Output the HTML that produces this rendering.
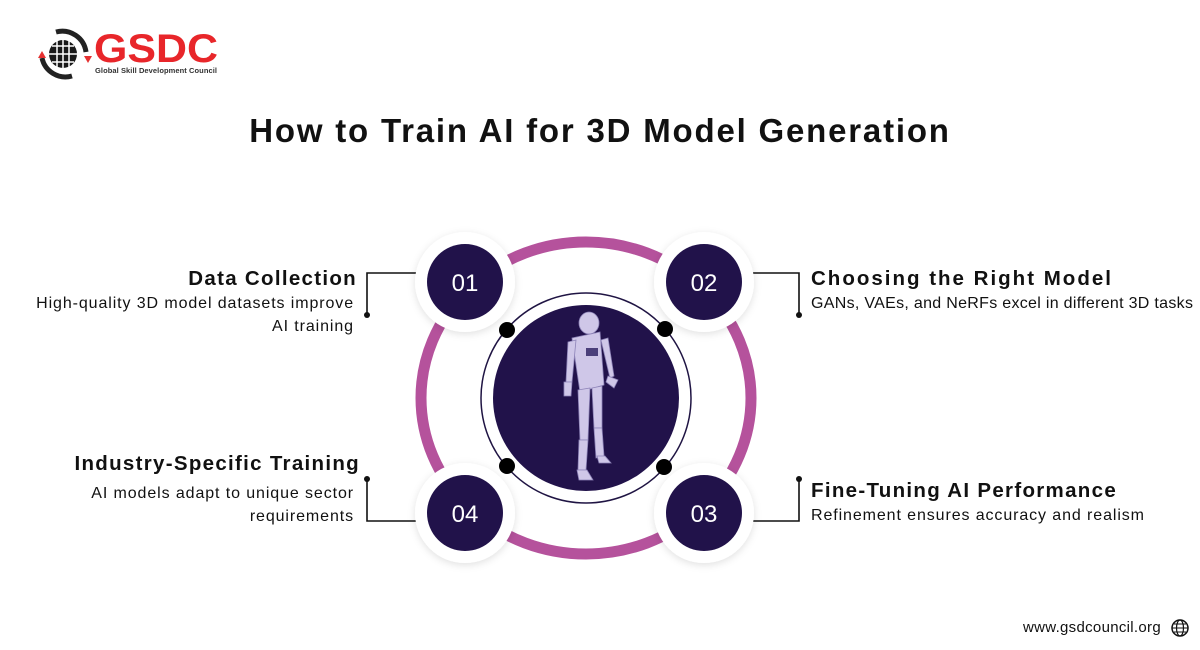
<!DOCTYPE html>
<html><head><meta charset="utf-8"><style>
body{margin:0;width:1200px;height:650px;background:#fff;overflow:hidden;font-family:"Liberation Sans",sans-serif;position:relative}
.t{position:absolute;color:#111;white-space:nowrap}
.h{font-weight:bold;font-size:20.5px;letter-spacing:1.3px}
.d{font-size:16px;line-height:23px;letter-spacing:0.9px}
</style></head><body>
<svg width="1200" height="650" style="position:absolute;left:0;top:0">
<defs><filter id="sh" x="-30%" y="-30%" width="160%" height="160%"><feDropShadow dx="0" dy="2" stdDeviation="4" flood-color="#000" flood-opacity="0.12"/></filter></defs>
<!-- logo -->
<path d="M56 32 A24 24 0 0 1 86 52" stroke="#222" stroke-width="5" fill="none"/>
<path d="M42 58 A24 24 0 0 0 72 76" stroke="#222" stroke-width="5" fill="none"/>
<circle cx="63" cy="54" r="14" fill="#1a1a1a"/>
<path d="M49 54h28M63 40v28M52 46h22M52 62h22M57 41v26M69 41v26" stroke="#fff" stroke-width="1.5"/>
<path d="M38 58l4-7 4 7z" fill="#e53030"/><path d="M84 56l4 7 4-7z" fill="#e53030"/>
<text x="94" y="62" font-family="Liberation Sans" font-weight="bold" font-size="40" fill="#e8262a" textLength="124" lengthAdjust="spacingAndGlyphs">GSDC</text>
<text x="95" y="73" font-family="Liberation Sans" font-weight="bold" font-size="7.5" fill="#333" textLength="122">Global Skill Development Council</text>
<!-- connectors -->
<g stroke="#111" stroke-width="1.6" fill="none">
<path d="M420 273H367V315"/><path d="M750 273H799V315"/>
<path d="M367 479V521H420"/><path d="M799 479V521H750"/>
</g>
<g fill="#111"><circle cx="367" cy="315" r="3"/><circle cx="799" cy="315" r="3"/><circle cx="367" cy="479" r="3"/><circle cx="799" cy="479" r="3"/></g>
<!-- ring -->
<ellipse cx="586" cy="398" rx="165" ry="156" fill="none" stroke="#b5529c" stroke-width="11"/>
<circle cx="586" cy="398" r="105" fill="none" stroke="#1f1443" stroke-width="1.5"/>
<circle cx="586" cy="398" r="93" fill="#21124a"/>
<g fill="#000"><circle cx="507" cy="330" r="8"/><circle cx="665" cy="329" r="8"/><circle cx="507" cy="466" r="8"/><circle cx="664" cy="467" r="8"/></g>
<!-- robot -->
<g fill="#cfc7e8" stroke="#8e84b8" stroke-width="0.8">
<ellipse cx="589" cy="323" rx="10" ry="11"/>
<path d="M572 338 L600 332 L604 385 L580 392 Z"/>
<path d="M568 342 L576 340 L572 382 L566 382 Z"/>
<path d="M601 340 L608 338 L614 376 L610 378 Z"/>
<path d="M608 376 l10 4 l-4 8 l-8 -6z"/>
<path d="M564 382 l8 0 l-1 14 l-7 0z"/>
<path d="M578 390 L590 388 L588 440 L580 440 Z"/>
<path d="M592 388 L602 386 L602 428 L594 428 Z"/>
<path d="M579 440 L588 440 L586 470 L578 470 Z"/>
<path d="M594 428 L602 428 L604 456 L596 458 Z"/>
<path d="M577 470 l10 0 l6 10 l-14 0z"/><path d="M597 456 l8 0 l6 7 l-12 0z"/>
</g>
<rect x="586" y="348" width="12" height="8" fill="#4b3f7a"/>
<!-- number circles -->
<g filter="url(#sh)" fill="#fff"><circle cx="465" cy="282" r="50"/><circle cx="704" cy="282" r="50"/><circle cx="465" cy="513" r="50"/><circle cx="704" cy="513" r="50"/></g>
<g fill="#21124a"><circle cx="465" cy="282" r="38"/><circle cx="704" cy="282" r="38"/><circle cx="465" cy="513" r="38"/><circle cx="704" cy="513" r="38"/></g>
<g fill="#fff" font-family="Liberation Sans" font-size="24" text-anchor="middle">
<text x="465" y="291">01</text><text x="704" y="291">02</text><text x="465" y="522">04</text><text x="704" y="522">03</text></g>
<!-- footer globe -->
<circle cx="1180" cy="628" r="8" fill="none" stroke="#111" stroke-width="1.5"/>
<ellipse cx="1180" cy="628" rx="3.5" ry="8" fill="none" stroke="#111" stroke-width="1.2"/>
<path d="M1172 628h16M1174 624h12M1174 632h12" stroke="#111" stroke-width="1"/>
</svg>
<div class="t" style="left:0;width:1200px;top:112px;text-align:center;font-weight:bold;font-size:33px;letter-spacing:1.8px">How to Train AI for 3D Model Generation</div>
<div class="t h" style="right:843px;top:267px">Data Collection</div>
<div class="t d" style="right:846px;top:292px;text-align:right">High-quality 3D model datasets improve<br>AI training</div>
<div class="t h" style="left:811px;top:267px;letter-spacing:2px">Choosing the Right Model</div>
<div class="t d" style="left:811px;top:292px;letter-spacing:0.3px">GANs, VAEs, and NeRFs excel in different 3D tasks</div>
<div class="t h" style="right:840px;top:452px">Industry-Specific Training</div>
<div class="t d" style="right:846px;top:482px;text-align:right">AI models adapt to unique sector<br>requirements</div>
<div class="t h" style="left:811px;top:479px">Fine-Tuning AI Performance</div>
<div class="t d" style="left:811px;top:504px">Refinement ensures accuracy and realism</div>
<div class="t" style="left:1023px;top:619px;font-size:15px;letter-spacing:0.3px">www.gsdcouncil.org</div>
</body></html>
